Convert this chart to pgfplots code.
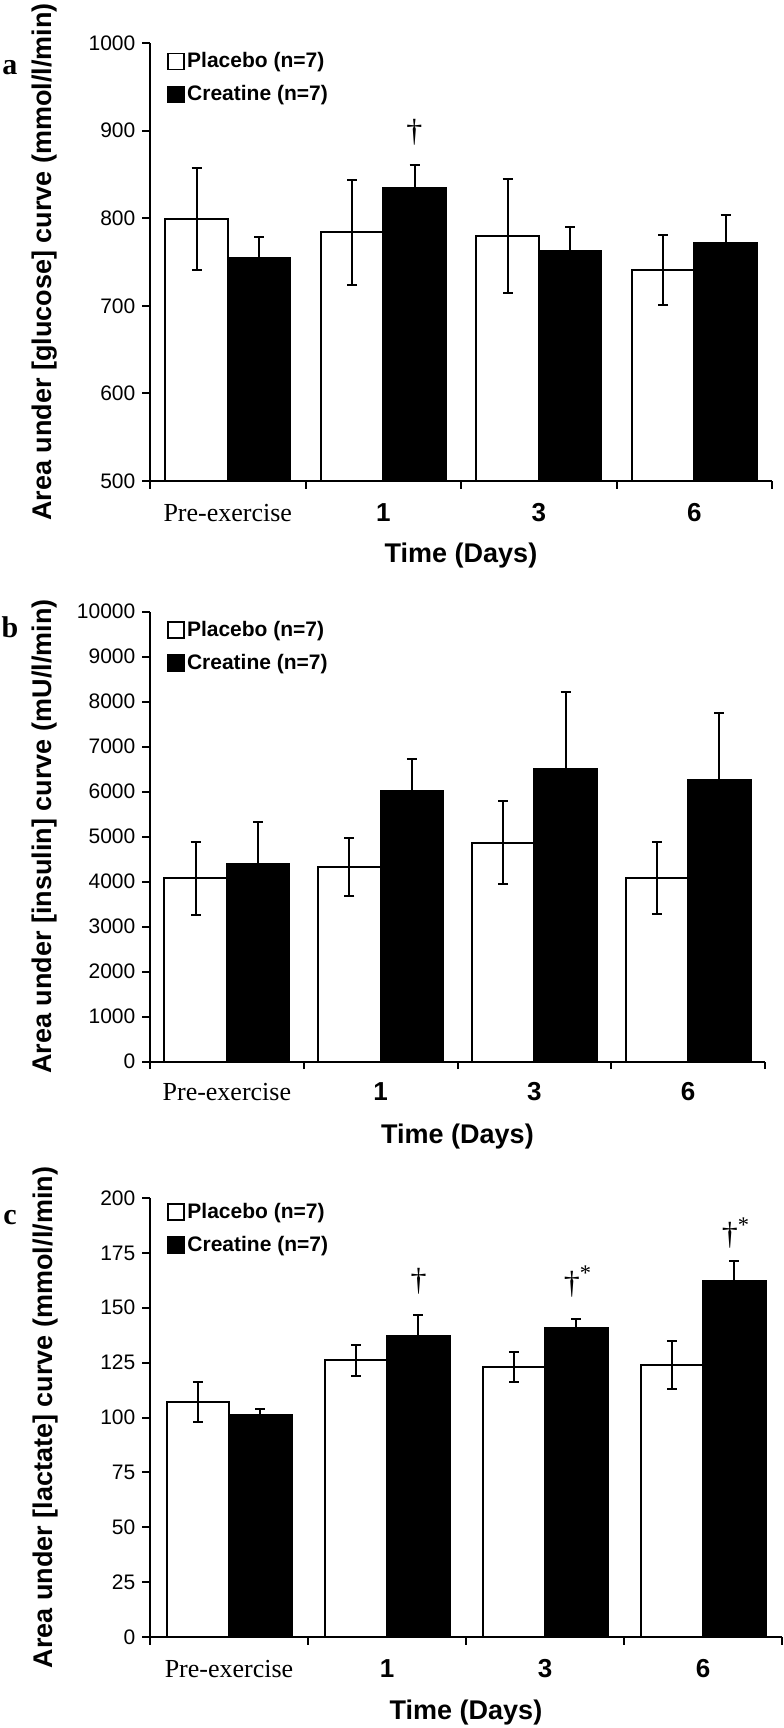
\documentclass[border=0pt]{standalone}
\usepackage{fontspec}
\setmainfont{Liberation Sans}
\newfontfamily\serif{Liberation Serif}
\usepackage{pgfplots}
\pgfplotsset{compat=1.18}

\pgfplotstableread{
x y e
0 799 58
1 784 60
2 780 65
3 741 40
}\gluP
\pgfplotstableread{
x y e
0 754 24
1 835 26
2 762 28
3 772 32
}\gluC
\pgfplotstableread{
x y e
0 4070 810
1 4315 645
2 4860 920
3 4070 800
}\insP
\pgfplotstableread{
x y e
0 4385 945
1 6010 715
2 6505 1710
3 6245 1500
}\insC
\pgfplotstableread{
x y e
0 107 9
1 126 7
2 123 7
3 124 11
}\lacP
\pgfplotstableread{
x y e
0 101 3
1 137 9.5
2 141 3.7
3 162 9.5
}\lacC

\pgfplotsset{
  panel/.style={
    scale only axis,
    xmin=-0.5, xmax=3.5,
    axis x line*=bottom, axis y line*=left,
    axis line style={line width=1pt},
    every tick/.style={black, line width=1pt},
    tick align=outside,
    major tick length=3.8pt,
    xtick={-0.5,0.5,1.5,2.5,3.5},
    xticklabels={},
    extra x ticks={0,1,2,3},
    extra x tick labels={{\serif\fontsize{13}{13}\selectfont Pre-exercise},{\bfseries\fontsize{13}{13}\selectfont 1},{\bfseries\fontsize{13}{13}\selectfont 3},{\bfseries\fontsize{13}{13}\selectfont 6}},
    yticklabel style={font=\fontsize{10.5}{12}\selectfont},
    /pgf/number format/assume math mode=true,
    /pgf/number format/1000 sep={},
    scaled y ticks=false,
    ybar=0pt, bar width=31.25pt,
    xlabel={Time (Days)},
    xlabel style={font=\bfseries\fontsize{13.5}{14}\selectfont, at={(axis description cs:0.5,0)}, anchor=center, yshift=-37.5pt},
    ylabel style={font=\bfseries\fontsize{13.5}{14}\selectfont, anchor=center},
    legend style={anchor=north west, draw=none, fill=none, font=\bfseries\fontsize{10.5}{12}\selectfont, row sep=5pt, inner sep=0pt, nodes={inner sep=1.2pt}},
    legend cell align=left,
  },
  pbar/.style={fill=white, draw=black, line width=1pt,
    legend image code/.code={\draw[black, fill=white, line width=0.8pt] (0pt,-4pt) rectangle (8pt,4pt);},
    error bars/.cd, y dir=both, y explicit,
    error bar style={line width=1pt, black},
    error mark options={rotate=90, line width=1pt, mark size=2.5pt, black}},
  cbar/.style={fill=black, draw=black, line width=1pt,
    legend image code/.code={\draw[black, fill=black, line width=0.8pt] (0pt,-4pt) rectangle (8pt,4pt);},
    error bars/.cd, y dir=both, y explicit,
    error bar style={line width=1pt, black},
    error mark options={rotate=90, line width=1pt, mark size=2.5pt, black}},
}

\begin{document}
\begin{tikzpicture}
\path[use as bounding box] (0,0) rectangle (391.5pt,-864pt);

% ---------- panel a ----------
\begin{axis}[panel, at={(75pt,-21.5pt)}, anchor=north west, width=311pt, height=219pt,
  ymin=500, ymax=1000, ytick={500,600,...,1000},
  extra x tick style={major tick length=0pt, xticklabel style={anchor=base, yshift=-20.5pt}},
  ylabel={Area under [glucose] curve (mmol/l/min)},
  ylabel style={at={(axis description cs:-0.169,0.5)}},
  legend style={at={(axis description cs:0.027,0.985)}}]
\addplot[pbar] table[x=x, y=y, y error=e] {\gluP};
\addplot[cbar] table[x=x, y=y, y error=e] {\gluC};
\legend{Placebo (n=7), Creatine (n=7)}
\node[font=\serif\fontsize{16}{16}\selectfont] at (axis cs:1.2,898) {†};
\end{axis}
\node[font=\serif\bfseries\fontsize{15}{15}\selectfont] at (5pt,-34pt) {a};

% ---------- panel b ----------
\begin{axis}[panel, at={(75pt,-305.75pt)}, anchor=north west, width=307.5pt, height=225pt,
  ymin=0, ymax=10000, ytick={0,1000,...,10000},
  extra x tick style={major tick length=0pt, xticklabel style={anchor=base, yshift=-19.5pt}},
  ylabel={Area under [insulin] curve (mU/l/min)},
  ylabel style={at={(axis description cs:-0.171,0.5)}},
  legend style={at={(axis description cs:0.027,0.985)}}]
\addplot[pbar] table[x=x, y=y, y error=e] {\insP};
\addplot[cbar] table[x=x, y=y, y error=e] {\insC};
\legend{Placebo (n=7), Creatine (n=7)}
\end{axis}
\node[font=\serif\bfseries\fontsize{15}{15}\selectfont] at (5pt,-313.5pt) {b};

% ---------- panel c ----------
\begin{axis}[panel, at={(75pt,-599pt)}, anchor=north west, width=316pt, height=219.5pt,
  ymin=0, ymax=200, ytick={0,25,...,200},
  extra x tick style={major tick length=0pt, xticklabel style={anchor=base, yshift=-20pt}},
  ylabel={Area under [lactate] curve (mmol/l/min)},
  ylabel style={at={(axis description cs:-0.166,0.5)}},
  legend style={at={(axis description cs:0.027,0.995)}}]
\addplot[pbar] table[x=x, y=y, y error=e] {\lacP};
\addplot[cbar] table[x=x, y=y, y error=e] {\lacC};
\legend{Placebo (n=7), Creatine (n=7)}
\node[font=\serif\fontsize{16}{16}\selectfont] at (axis cs:1.2,162) {†};
\node[font=\serif\fontsize{16}{16}\selectfont] at (axis cs:2.17,162) {†\rlap{\textsuperscript{*}}};
\node[font=\serif\fontsize{16}{16}\selectfont] at (axis cs:3.17,184) {†\rlap{\textsuperscript{*}}};
\end{axis}
\node[font=\serif\bfseries\fontsize{15}{15}\selectfont] at (5pt,-609pt) {c};
\end{tikzpicture}
\end{document}
